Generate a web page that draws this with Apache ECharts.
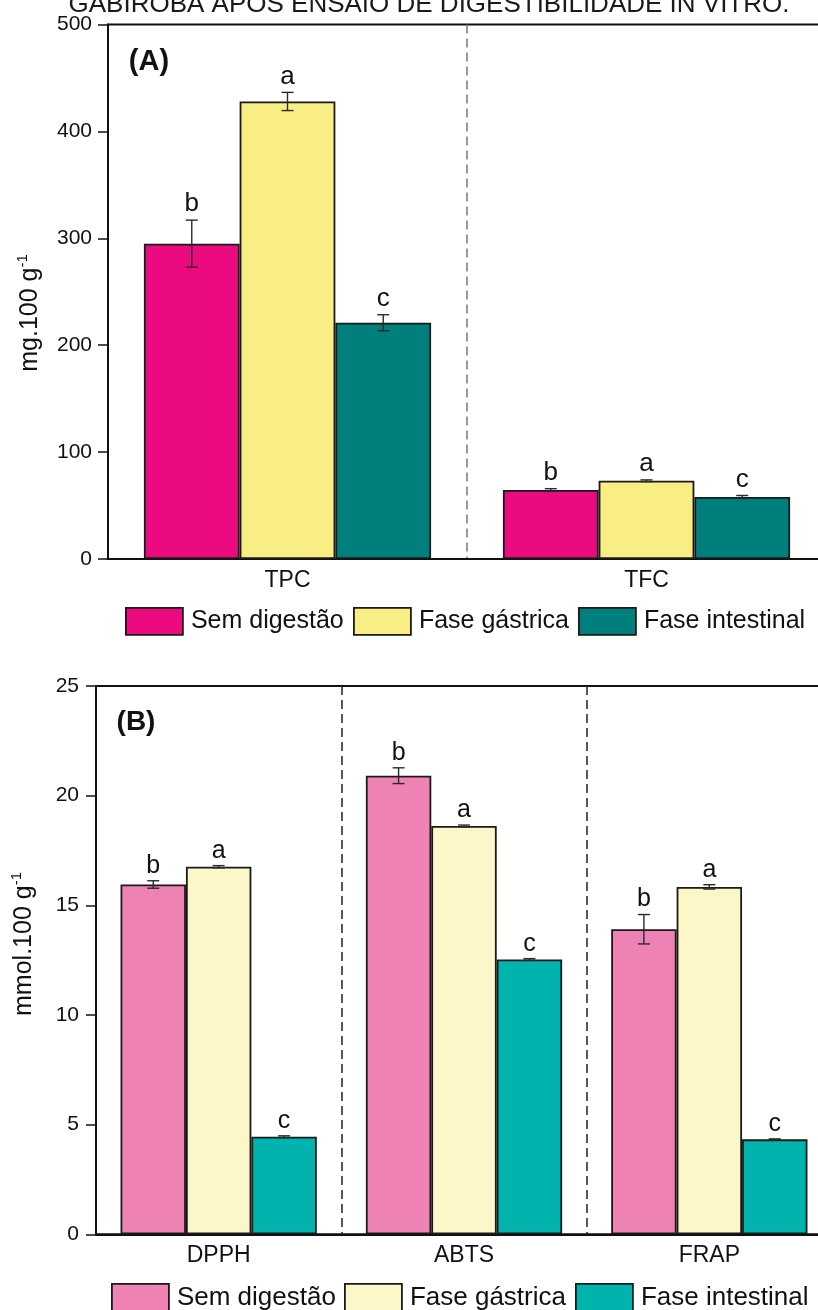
<!DOCTYPE html>
<html>
<head>
<meta charset="utf-8">
<script src="https://cdn.jsdelivr.net/npm/echarts@6/dist/echarts.min.js"></script>
<style>
html,body{margin:0;padding:0;background:#fff;overflow:hidden;}
#c{width:840px;height:1310px;}
</style>
</head>
<body>
<div id="c"></div>
<script>
// ---------- DATA ----------
const seriesNames = ['Sem digestão', 'Fase gástrica', 'Fase intestinal'];

// Panel A (mg.100 g-1)
const catsA = ['TPC', 'TFC'];
const semA = [295, 64.5];
const gasA = [428, 73.2];
const intA = [221, 58];
const errSemA = [22, 1.3];
const errGasA = [8.5, 0.8];
const errIntA = [7.5, 1.4];
const letSemA = ['b', 'b'];
const letGasA = ['a', 'a'];
const letIntA = ['c', 'c'];
const ticksA = [0, 100, 200, 300, 400, 500];

// Panel B (mmol.100 g-1)
const catsB = ['DPPH', 'ABTS', 'FRAP'];
const semB = [15.95, 20.91, 13.91];
const gasB = [16.76, 18.62, 15.84];
const intB = [4.45, 12.53, 4.33];
const errSemB = [0.17, 0.36, 0.67];
const errGasB = [0.05, 0.04, 0.1];
const errIntB = [0.04, 0.04, 0.02];
const letSemB = ['b', 'b', 'b'];
const letGasB = ['a', 'a', 'a'];
const letIntB = ['c', 'c', 'c'];
const ticksB = [0, 5, 10, 15, 20, 25];

// ---------- STYLE ----------
const colorsA = ['#EB0A7F', '#F8EE84', '#007F7C'];
const colorsB = ['#EE82B5', '#FCF7C8', '#00B4AE'];
const FONT = 'Arial, "Liberation Sans", Helvetica, sans-serif';
const INK = '#111';

const chart = echarts.init(document.getElementById('c'), null, {renderer: 'canvas'});

function barSeries(name, data, gi, color) {
  return {
    name: name, type: 'bar', xAxisIndex: gi, yAxisIndex: gi, data: data,
    barGap: '0%', barCategoryGap: '20%',
    itemStyle: {color: color, borderColor: '#1a1a1a', borderWidth: 1.8},
    emphasis: {disabled: true}, z: 2
  };
}

function errSeries(k, vals, errs, letters, gi, letterSize, gap) {
  return {
    type: 'custom', xAxisIndex: gi, yAxisIndex: gi, z: 5,
    data: vals.map((v, i) => [i, v, errs[i]]),
    renderItem: function (params, api) {
      const ci = api.value(0), v = api.value(1), e = api.value(2);
      const band = api.size([1, 0])[0];
      const bw = band * 0.8 / 3;
      const c = api.coord([ci, v]);
      const x = c[0] + (k - 1) * bw;
      const yt = api.coord([ci, v + e])[1];
      const yb = api.coord([ci, v - e])[1];
      const hw = 6;
      const ls = {stroke: '#2a2a2a', lineWidth: 1.4};
      return {
        type: 'group', children: [
          {type: 'line', shape: {x1: x, y1: yt, x2: x, y2: yb}, style: ls},
          {type: 'line', shape: {x1: x - hw, y1: yt, x2: x + hw, y2: yt}, style: ls},
          {type: 'line', shape: {x1: x - hw, y1: yb, x2: x + hw, y2: yb}, style: ls},
          {type: 'text', x: x, y: yt - gap,
           style: {text: letters[params.dataIndex], align: 'center', verticalAlign: 'middle',
                   textAlign: 'center', textVerticalAlign: 'middle',
                   fontSize: letterSize, fontFamily: FONT, fill: INK}}
        ]
      };
    }
  };
}

function legendItem(name, color, left, top, fs, h) {
  return {
    left: left, top: top, padding: 0, itemWidth: 57, itemHeight: h, itemGap: 0,
    selectedMode: false, icon: 'rect',
    data: [{name: name, itemStyle: {color: color, borderColor: '#1a1a1a', borderWidth: 1.8}}],
    textStyle: {fontSize: fs, fontFamily: FONT, color: INK, padding: [0, 0, 0, 3]}
  };
}

const option = {
  animation: false,
  backgroundColor: '#fff',
  grid: [
    {left: 108, top: 24.5, width: 718, height: 534.5, show: true, borderColor: INK, borderWidth: 2, backgroundColor: 'transparent'},
    {left: 96, top: 686, width: 736, height: 548.3, show: true, borderColor: INK, borderWidth: 2, backgroundColor: 'transparent'}
  ],
  xAxis: [
    {type: 'category', gridIndex: 0, data: catsA,
     axisLine: {lineStyle: {color: INK, width: 2}}, axisTick: {show: false},
     axisLabel: {fontSize: 23, fontFamily: FONT, color: INK, margin: 10},
     splitLine: {show: true, interval: 0, lineStyle: {color: '#7a7a7a', width: 1.5, type: [9, 5]}}},
    {type: 'category', gridIndex: 1, data: catsB,
     axisLine: {lineStyle: {color: INK, width: 2}}, axisTick: {show: false},
     axisLabel: {fontSize: 23, fontFamily: FONT, color: INK, margin: 10},
     splitLine: {show: true, interval: 0, lineStyle: {color: '#222', width: 1.5, type: [9, 5]}}}
  ],
  yAxis: [
    {type: 'value', gridIndex: 0, min: ticksA[0], max: ticksA[ticksA.length - 1], interval: ticksA[1] - ticksA[0],
     axisLine: {show: true, lineStyle: {color: INK, width: 2}},
     axisTick: {show: true, length: 10, lineStyle: {color: INK, width: 1.5}},
     axisLabel: {fontSize: 21, fontFamily: FONT, color: INK, margin: 16},
     splitLine: {show: false}},
    {type: 'value', gridIndex: 1, min: ticksB[0], max: ticksB[ticksB.length - 1], interval: ticksB[1] - ticksB[0],
     axisLine: {show: true, lineStyle: {color: INK, width: 2}},
     axisTick: {show: true, length: 10, lineStyle: {color: INK, width: 1.5}},
     axisLabel: {fontSize: 21, fontFamily: FONT, color: INK, margin: 17},
     splitLine: {show: false}}
  ],
  legend: [
    legendItem(seriesNames[0], colorsA[0], 125, 607, 25, 27),
    legendItem(seriesNames[1], colorsA[1], 353, 607, 25, 27),
    legendItem(seriesNames[2], colorsA[2], 578, 607, 25, 27),
    legendItem(seriesNames[0], colorsB[0], 111, 1283, 26, 28),
    legendItem(seriesNames[1], colorsB[1], 344, 1283, 26, 28),
    legendItem(seriesNames[2], colorsB[2], 575, 1283, 26, 28)
  ],
  series: [
    barSeries(seriesNames[0], semA, 0, colorsA[0]),
    barSeries(seriesNames[1], gasA, 0, colorsA[1]),
    barSeries(seriesNames[2], intA, 0, colorsA[2]),
    barSeries(seriesNames[0], semB, 1, colorsB[0]),
    barSeries(seriesNames[1], gasB, 1, colorsB[1]),
    barSeries(seriesNames[2], intB, 1, colorsB[2]),
    errSeries(0, semA, errSemA, letSemA, 0, 26, 16),
    errSeries(1, gasA, errGasA, letGasA, 0, 26, 16),
    errSeries(2, intA, errIntA, letIntA, 0, 26, 16),
    errSeries(0, semB, errSemB, letSemB, 1, 25, 15),
    errSeries(1, gasB, errGasB, letGasB, 1, 25, 15),
    errSeries(2, intB, errIntB, letIntB, 1, 25, 15)
  ],
  graphic: [
    {type: 'text', x: 429, y: 4.5, z: 10,
     style: {text: 'GABIROBA APÓS ENSAIO DE DIGESTIBILIDADE IN VITRO.', align: 'center', verticalAlign: 'middle',
             fontSize: 26, fontFamily: FONT, fill: '#1a1a1a'}},
    {type: 'text', x: 149, y: 62, z: 10,
     style: {text: '(A)', align: 'center', verticalAlign: 'middle', fontSize: 29, fontWeight: 'bold', fontFamily: FONT, fill: INK}},
    {type: 'text', x: 136, y: 722, z: 10,
     style: {text: '(B)', align: 'center', verticalAlign: 'middle', fontSize: 28, fontWeight: 'bold', fontFamily: FONT, fill: INK}},
    {type: 'text', x: 30, y: 313, rotation: Math.PI / 2, z: 10,
     style: {text: '{n|mg.100 g}{s|-1}', align: 'center', verticalAlign: 'middle', fill: INK,
             rich: {n: {fontSize: 25, fontFamily: FONT, fill: INK, lineHeight: 30},
                    s: {fontSize: 15, fontFamily: FONT, fill: INK, verticalAlign: 'top', lineHeight: 30}}}},
    {type: 'text', x: 24, y: 944, rotation: Math.PI / 2, z: 10,
     style: {text: '{n|mmol.100 g}{s|-1}', align: 'center', verticalAlign: 'middle', fill: INK,
             rich: {n: {fontSize: 25, fontFamily: FONT, fill: INK, lineHeight: 30},
                    s: {fontSize: 15, fontFamily: FONT, fill: INK, verticalAlign: 'top', lineHeight: 30}}}}
  ]
};
chart.setOption(option);
</script>
</body>
</html>
